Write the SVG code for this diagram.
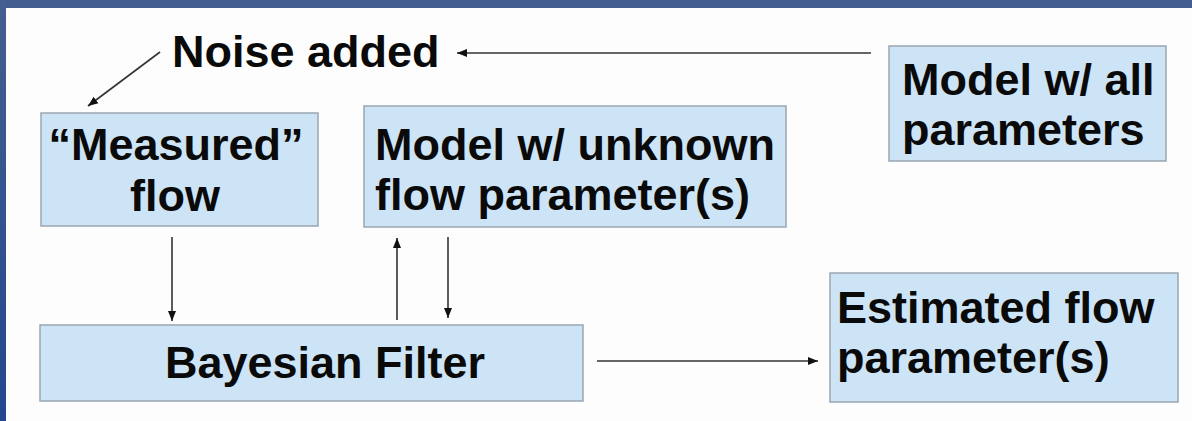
<svg xmlns="http://www.w3.org/2000/svg" width="1192" height="421" viewBox="0 0 1192 421">
  <defs>
    <linearGradient id="frame" x1="0" y1="0" x2="0" y2="1">
      <stop offset="0" stop-color="#445f90"/>
      <stop offset="1" stop-color="#23478f"/>
    </linearGradient>
    <marker id="ah" viewBox="0 0 10 10" refX="10" refY="5" markerWidth="10" markerHeight="10" markerUnits="userSpaceOnUse" orient="auto">
      <path d="M0,1 L10,5 L0,9 Z" fill="#111"/>
    </marker>
    <style>
      .box { fill: #cde4f6; stroke: #9aa6b2; stroke-width: 1.5; }
      .t { font-family: "Liberation Sans", Arial, sans-serif; font-weight: bold; font-size: 45px; fill: #0a0a0a; }
      .c { stroke: #333; stroke-width: 1.6; fill: none; marker-end: url(#ah); }
    </style>
  </defs>
  <rect x="0" y="0" width="1192" height="421" fill="#fdfdfd"/>
  <rect x="0" y="0" width="1192" height="8" fill="#425d90"/>
  <rect x="0" y="0" width="6" height="421" fill="url(#frame)"/>

  <g id="noise">
    <text class="t" x="172" y="67">Noise added</text>
  </g>
  <g id="measured">
    <rect class="box" x="41" y="113" width="277" height="113"/>
    <text class="t" x="176" y="160" text-anchor="middle">“Measured”</text>
    <text class="t" x="175" y="211" text-anchor="middle">flow</text>
  </g>
  <g id="model-unknown">
    <rect class="box" x="364" y="106" width="422" height="121"/>
    <text class="t" x="375" y="160">Model w/ unknown</text>
    <text class="t" x="375" y="210">flow parameter(s)</text>
  </g>
  <g id="model-all">
    <rect class="box" x="889" y="46" width="277" height="115"/>
    <text class="t" x="902" y="95">Model w/ all</text>
    <text class="t" x="902" y="145">parameters</text>
  </g>
  <g id="bayesian">
    <rect class="box" x="40" y="325" width="543" height="76"/>
    <text class="t" x="325" y="378" text-anchor="middle">Bayesian Filter</text>
  </g>
  <g id="estimated">
    <rect class="box" x="830" y="273" width="348" height="129"/>
    <text class="t" x="837" y="323">Estimated flow</text>
    <text class="t" x="837" y="373">parameter(s)</text>
  </g>

  <g id="connectors">
    <line class="c" x1="160" y1="52" x2="88" y2="106"/>
    <line class="c" x1="871" y1="53" x2="457" y2="53"/>
    <line class="c" x1="172" y1="237" x2="172" y2="321"/>
    <line class="c" x1="397" y1="320" x2="397" y2="238"/>
    <line class="c" x1="448" y1="237" x2="448" y2="318"/>
    <line class="c" x1="597" y1="361" x2="818" y2="361"/>
  </g>
</svg>
